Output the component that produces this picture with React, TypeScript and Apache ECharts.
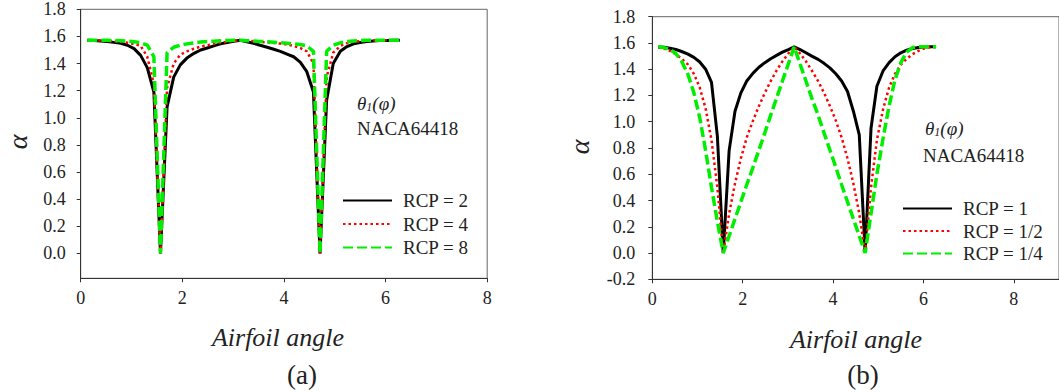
import React, { useEffect, useRef } from 'react';
import * as echarts from 'echarts';

// Airfoil angle samples (rad)
const phi = [0.13, 0.26, 0.39, 0.52, 0.65, 0.79, 0.92, 1.05, 1.18, 1.31, 1.44, 1.57, 1.70, 1.83, 1.96, 2.09, 2.23, 2.36, 2.49, 2.62, 2.75, 2.88, 3.01, 3.14, 3.27, 3.40, 3.53, 3.67, 3.80, 3.93, 4.06, 4.19, 4.32, 4.45, 4.58, 4.71, 4.84, 4.97, 5.11, 5.24, 5.37, 5.50, 5.63, 5.76, 5.89, 6.02, 6.15, 6.28];

// (a)
const leftNames = ['RCP = 2', 'RCP = 4', 'RCP = 8'];
const leftRcp2 = [1.571, 1.570, 1.567, 1.562, 1.556, 1.550, 1.535, 1.510, 1.460, 1.370, 1.190, 0.000, 1.080, 1.300, 1.390, 1.440, 1.475, 1.500, 1.515, 1.530, 1.545, 1.555, 1.565, 1.571, 1.560, 1.550, 1.535, 1.520, 1.505, 1.490, 1.470, 1.450, 1.410, 1.340, 1.190, 0.000, 1.130, 1.400, 1.490, 1.525, 1.545, 1.555, 1.562, 1.566, 1.569, 1.570, 1.571, 1.571];
const leftRcp4 = [1.571, 1.571, 1.570, 1.568, 1.565, 1.560, 1.553, 1.545, 1.530, 1.450, 1.250, 0.000, 1.220, 1.400, 1.465, 1.490, 1.510, 1.525, 1.535, 1.545, 1.553, 1.560, 1.566, 1.571, 1.568, 1.564, 1.560, 1.556, 1.552, 1.547, 1.540, 1.530, 1.515, 1.490, 1.400, 0.000, 1.300, 1.480, 1.530, 1.550, 1.560, 1.565, 1.568, 1.570, 1.571, 1.571, 1.571, 1.571];
const leftRcp8 = [1.571, 1.571, 1.571, 1.571, 1.570, 1.568, 1.565, 1.560, 1.553, 1.535, 1.450, 0.000, 1.480, 1.520, 1.535, 1.545, 1.552, 1.558, 1.562, 1.565, 1.568, 1.570, 1.571, 1.571, 1.568, 1.566, 1.563, 1.560, 1.557, 1.553, 1.550, 1.545, 1.540, 1.530, 1.490, 0.000, 1.490, 1.535, 1.553, 1.562, 1.567, 1.570, 1.571, 1.571, 1.571, 1.571, 1.571, 1.571];

// (b)
const rightNames = ['RCP = 1', 'RCP = 1/2', 'RCP = 1/4'];
const rightRcp1 = [1.570, 1.567, 1.560, 1.550, 1.535, 1.515, 1.490, 1.455, 1.400, 1.300, 0.890, 0.000, 0.780, 1.080, 1.220, 1.310, 1.370, 1.415, 1.450, 1.480, 1.505, 1.530, 1.550, 1.571, 1.550, 1.525, 1.500, 1.475, 1.445, 1.410, 1.365, 1.310, 1.230, 1.080, 0.900, 0.000, 0.950, 1.270, 1.390, 1.450, 1.495, 1.525, 1.545, 1.558, 1.565, 1.569, 1.571, 1.571];
const rightRcpHalf = [1.567, 1.558, 1.540, 1.515, 1.480, 1.435, 1.365, 1.260, 1.100, 0.860, 0.500, 0.000, 0.300, 0.530, 0.720, 0.880, 1.010, 1.120, 1.220, 1.310, 1.390, 1.460, 1.520, 1.571, 1.520, 1.460, 1.390, 1.310, 1.220, 1.120, 1.010, 0.880, 0.720, 0.530, 0.300, 0.000, 0.500, 0.860, 1.100, 1.260, 1.365, 1.435, 1.480, 1.515, 1.540, 1.558, 1.567, 1.571];
const rightRcpQuarter = [1.571, 1.565, 1.550, 1.520, 1.460, 1.360, 1.220, 1.030, 0.780, 0.500, 0.240, 0.000, 0.130, 0.260, 0.390, 0.520, 0.655, 0.785, 0.915, 1.050, 1.180, 1.310, 1.440, 1.571, 1.440, 1.310, 1.180, 1.050, 0.915, 0.785, 0.655, 0.520, 0.390, 0.260, 0.130, 0.000, 0.300, 0.600, 0.880, 1.120, 1.320, 1.450, 1.530, 1.565, 1.571, 1.571, 1.571, 1.571];

const xTicks = [0, 2, 4, 6, 8];
const yTicksLeft = [0, 0.2, 0.4, 0.6, 0.8, 1.0, 1.2, 1.4, 1.6, 1.8];
const yTicksRight = [-0.2, 0, 0.2, 0.4, 0.6, 0.8, 1.0, 1.2, 1.4, 1.6, 1.8];
const xTitle = 'Airfoil angle';
const yTitle = 'α';
const panelLabels = ['(a)', '(b)'];
const foilName = 'NACA64418';

const SERIF = 'Liberation Serif';
const colors = ['#000000', '#ff0000', '#00ee00'];
const lineStyles: any[] = [
  { width: 3, type: 'solid' },
  { width: 2.5, type: [2.5, 3] },
  { width: 3.5, type: [10, 4] },
];

function mk(vals: number[]) {
  return phi.map((x, i) => [x, vals[i]]);
}

function xAxis(gridIndex: number, max: number) {
  return {
    type: 'value', gridIndex, min: 0, max,
    axisLine: { show: true, onZero: false, lineStyle: { color: '#333', width: 1 } },
    axisTick: { show: true, inside: false, length: 4, customValues: xTicks, lineStyle: { color: '#333' } },
    axisLabel: { customValues: xTicks, margin: 11, fontFamily: SERIF, fontSize: 18, color: '#222' },
    splitLine: { show: false },
  };
}

function yAxis(gridIndex: number, min: number, ticks: number[], margin: number) {
  return {
    type: 'value', gridIndex, min, max: 1.8,
    axisLine: { show: true, onZero: false, lineStyle: { color: '#333', width: 1 } },
    axisTick: { show: true, inside: false, length: 4, customValues: ticks, lineStyle: { color: '#333' } },
    axisLabel: { customValues: ticks, margin, fontFamily: SERIF, fontSize: 18, color: '#222', formatter: (v: number) => v.toFixed(1) },
    splitLine: { show: false },
  };
}

function series(name: string, vals: number[], idx: number, axisIdx: number) {
  return {
    name, type: 'line', xAxisIndex: axisIdx, yAxisIndex: axisIdx,
    data: mk(vals), showSymbol: false, symbol: 'none',
    lineStyle: { color: colors[idx], ...lineStyles[idx] },
    itemStyle: { color: colors[idx] },
  };
}

function thetaText(x: number, y: number) {
  return {
    type: 'text', x, y,
    style: {
      text: '{a|θ}{s|1}{a|(φ)}',
      verticalAlign: 'middle',
      rich: {
        a: { fontFamily: SERIF, fontStyle: 'italic', fontSize: 19, fill: '#222', color: '#222' },
        s: { fontFamily: SERIF, fontStyle: 'italic', fontSize: 12, fill: '#222', color: '#222', padding: [8, 0, 0, 0] },
      },
    },
  };
}

function plain(text: string, x: number, y: number, size: number, italic: boolean, rotation = 0, align = 'center') {
  return {
    type: 'text', x, y, rotation,
    style: {
      text, fill: '#222', align, verticalAlign: 'middle',
      fontFamily: SERIF, fontSize: size, fontStyle: italic ? 'italic' : 'normal',
    },
  };
}

const legendBase = {
  orient: 'vertical', itemWidth: 49, itemHeight: 14, padding: 0,
  itemStyle: { color: 'transparent', borderColor: 'transparent', borderWidth: 0, opacity: 0 },
  textStyle: { fontFamily: SERIF, fontSize: 19, color: '#222', padding: [0, 0, 0, 6] },
};

export default function App() {
  const ref = useRef<HTMLDivElement>(null);
  useEffect(() => {
    document.body.style.margin = '0';
    const chart = echarts.init(ref.current!, null, { renderer: 'svg' });
    const option: any = {
      animation: false,
      backgroundColor: '#ffffff',
      grid: [
        { left: 80.7, top: 9.3, width: 406.5, height: 269, show: true, borderColor: '#666', borderWidth: 1 },
        { left: 652.3, top: 16.7, width: 415.5, height: 262.6, show: true, borderColor: '#666', borderWidth: 1 },
      ],
      xAxis: [xAxis(0, 8), xAxis(1, 9)],
      yAxis: [yAxis(0, -0.184, yTicksLeft, 15), yAxis(1, -0.2, yTicksRight, 17)],
      legend: [
        { ...legendBase, data: leftNames, left: 342, top: 191, itemGap: 4.5 },
        { ...legendBase, data: rightNames, left: 902, top: 199, itemGap: 3.5 },
      ],
      series: [
        series(leftNames[0], leftRcp2, 0, 0),
        series(leftNames[1], leftRcp4, 1, 0),
        series(leftNames[2], leftRcp8, 2, 0),
        series(rightNames[0], rightRcp1, 0, 1),
        series(rightNames[1], rightRcpHalf, 1, 1),
        series(rightNames[2], rightRcpQuarter, 2, 1),
      ],
      graphic: [
        plain(xTitle, 278, 337, 26, true),
        plain(xTitle, 856, 339, 26, true),
        plain(yTitle, 17, 142, 28, true, Math.PI / 2),
        plain(yTitle, 579, 147, 28, true, Math.PI / 2),
        plain(panelLabels[0], 302, 375, 27, false),
        plain(panelLabels[1], 863, 375, 27, false),
        thetaText(357, 103),
        plain(foilName, 357, 128, 19, false, 0, 'left'),
        thetaText(925, 128),
        plain(foilName, 923, 155, 19, false, 0, 'left'),
      ],
    };
    chart.setOption(option);
    return () => chart.dispose();
  }, []);
  return <div ref={ref} style={{ width: 1059, height: 392 }} />;
}
